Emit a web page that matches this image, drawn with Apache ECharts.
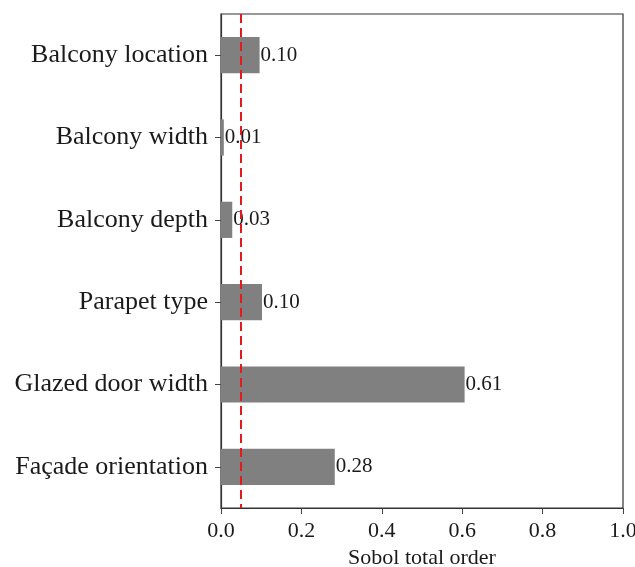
<!DOCTYPE html>
<html>
<head>
<meta charset="utf-8">
<script src="https://cdn.jsdelivr.net/npm/echarts@6/dist/echarts.min.js"></script>
<style>html,body{margin:0;padding:0;background:#fff}#c{width:635px;height:567px}</style>
</head>
<body>
<div id="c"></div>
<script>
const categories = ['Balcony location', 'Balcony width', 'Balcony depth', 'Parapet type', 'Glazed door width', 'Façade orientation'];
const values = [0.096, 0.007, 0.028, 0.102, 0.606, 0.283];
const xTicks = [0, 0.2, 0.4, 0.6, 0.8, 1.0];
const threshold = 0.05;

const chart = echarts.init(document.getElementById('c'));
const font = '"Liberation Serif", "Times New Roman", serif';
chart.setOption({
  animation: false,
  grid: { left: 221, right: 12, top: 14, bottom: 59, outerBoundsMode: 'none', containLabel: false, show: true, borderColor: '#333', borderWidth: 1.2, backgroundColor: 'transparent' },
  xAxis: {
    type: 'value', min: 0, max: 1, interval: 0.2,
    name: 'Sobol total order', nameLocation: 'middle', nameGap: 39,
    nameTextStyle: { fontFamily: font, fontSize: 22, color: '#1a1a1a' },
    axisLine: { show: true, lineStyle: { color: '#333', width: 1.2 } },
    axisTick: { show: true, length: 6, lineStyle: { color: '#444' } },
    axisLabel: { fontFamily: font, fontSize: 22, color: '#1a1a1a', margin: 12, formatter: v => v.toFixed(1) },
    splitLine: { show: false }
  },
  yAxis: {
    type: 'category', data: categories, inverse: true,
    axisLine: { show: true, lineStyle: { color: '#333', width: 1.2 } },
    axisTick: { show: true, alignWithLabel: true, length: 6, lineStyle: { color: '#444' } },
    axisLabel: { fontFamily: font, fontSize: 26, color: '#1a1a1a', margin: 13 }
  },
  series: [{
    type: 'bar', data: values, barWidth: '44%',
    itemStyle: { color: '#808080' },
    label: { show: true, position: 'right', distance: 1, fontFamily: font, fontSize: 21, color: '#1a1a1a', formatter: p => p.value.toFixed(2) },
    markLine: {
      silent: true, symbol: 'none', label: { show: false },
      lineStyle: { color: '#e41a1c', type: [9, 5], width: 2 },
      data: [{ xAxis: threshold }]
    }
  }]
});
</script>
</body>
</html>
